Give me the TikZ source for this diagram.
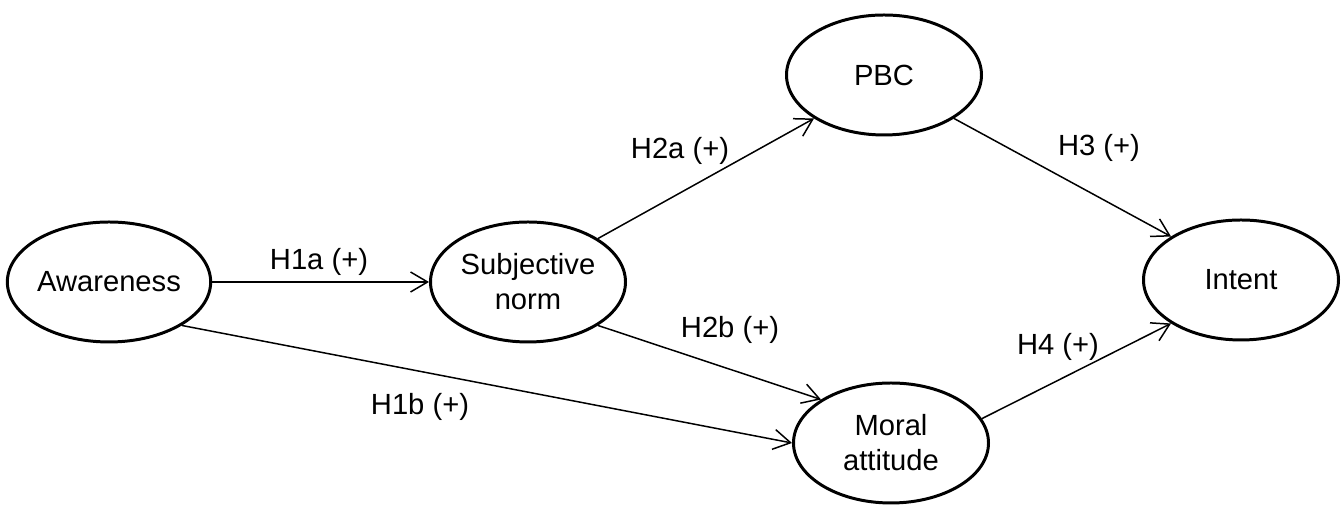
\documentclass[tikz,border=0pt]{standalone}
\usepackage{fontspec}
\setmainfont{Liberation Sans}
\usetikzlibrary{positioning,calc,arrows.meta,shapes.geometric}

\begin{document}
\begin{tikzpicture}[font=\fontsize{16.6}{20}\selectfont,
  construct/.style={draw,ellipse,line width=1.7pt,minimum width=3.9cm,minimum height=2.4cm,
        inner sep=0pt,align=center},
  path/.style={-{Straight Barb[length=3.4mm,width=4mm]},line width=0.85pt},
  hyp/.style={inner sep=0pt}]
\useasboundingbox (0,0) rectangle (26.84,10.2);
\node[construct] (aware) at (2.18,4.56) {Awareness};
\node[construct] (subj) at (10.56,4.56) {Subjective\\norm};
\node[construct] (pbc) at (17.68,8.7) {PBC};
\node[construct] (moral) at (17.82,1.34) {Moral\\attitude};
\node[construct] (intent) at (24.82,4.6) {Intent};
% hypotheses
\draw[path] (aware.east) -- (subj.west);
\draw[path] (aware.south east) -- (moral.west);
\draw[path] (subj.north east) -- (pbc.south west);
\draw[path] (subj.south east) -- (moral.north west);
\draw[path] (pbc.south east) -- (intent.north west);
\draw[path] (moral.15) -- (intent.south west);
\node[hyp] (h1a) at (6.38,4.96) {H1a (+)};
\node[hyp] (h1b) at (8.4,2.06) {H1b (+)};
\node[hyp] (h2a) at (13.6,7.18) {H2a (+)};
\node[hyp] (h2b) at (14.6,3.6) {H2b (+)};
\node[hyp] (h3) at (21.98,7.24) {H3 (+)};
\node[hyp] (h4) at (21.16,3.26) {H4 (+)};
\end{tikzpicture}
\end{document}
